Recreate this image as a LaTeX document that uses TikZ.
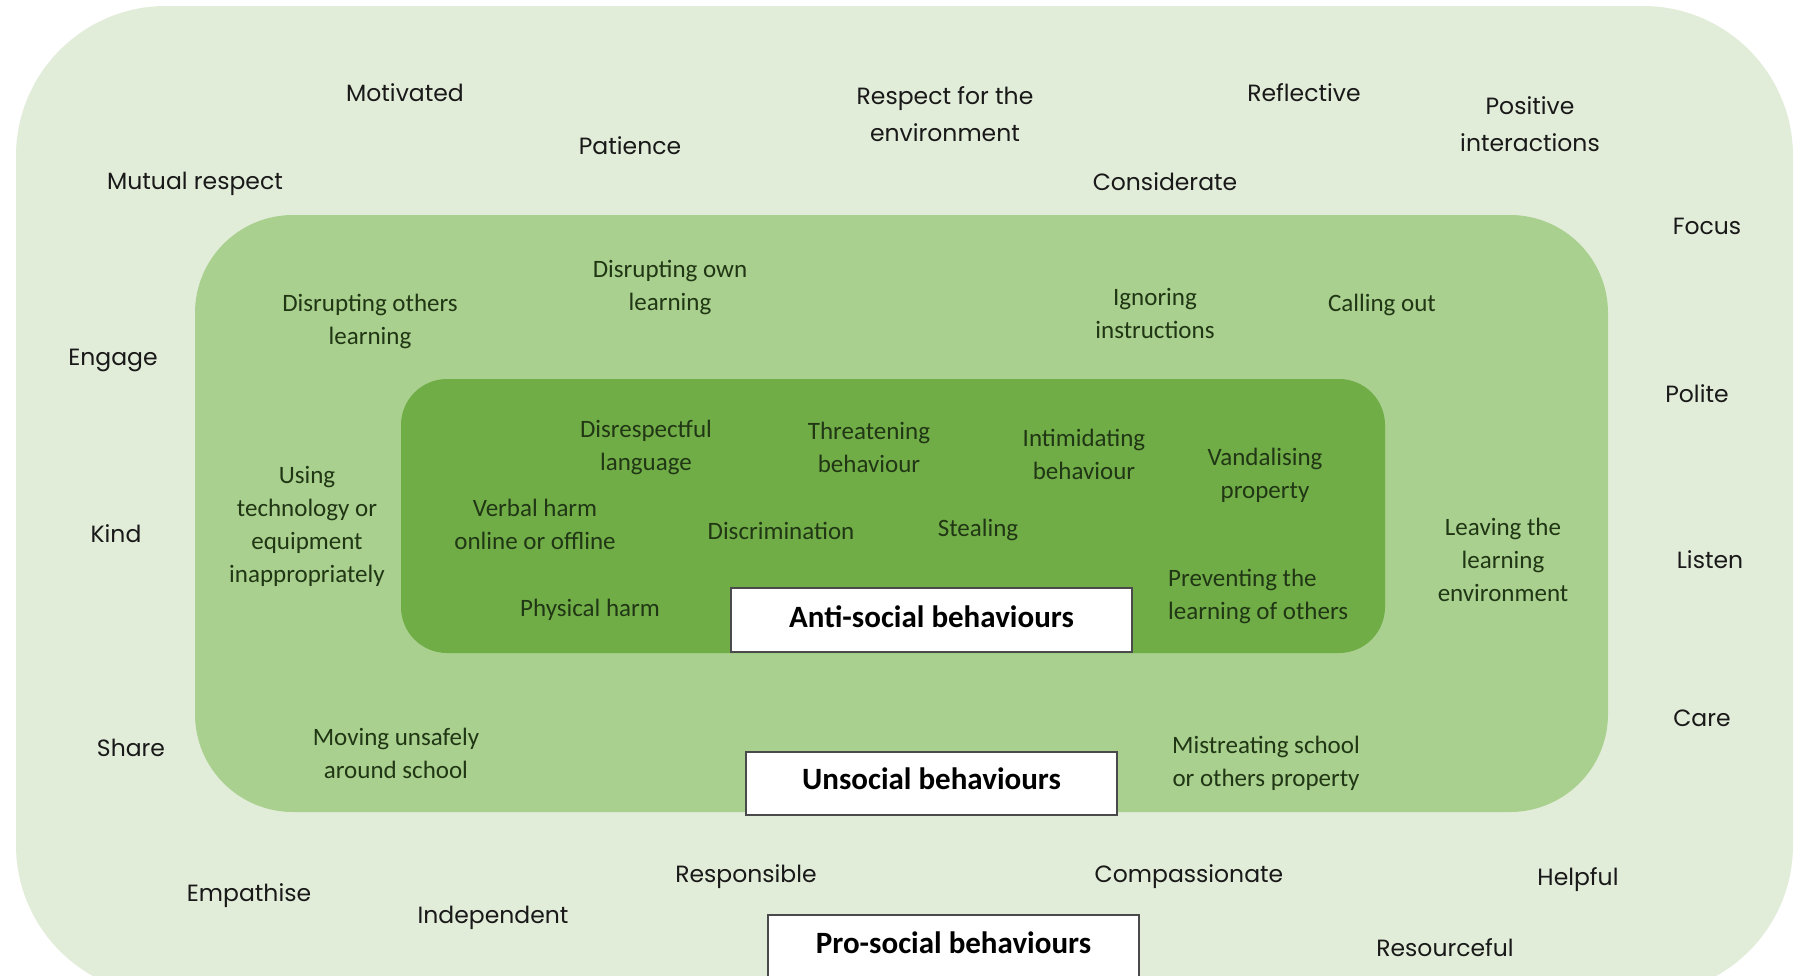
\documentclass[tikz,border=0pt]{standalone}
\usepackage{fontspec}
\setmainfont{Carlito}
\newfontfamily\comic{Poppins}
\definecolor{outerfill}{HTML}{E2EDD9}
\definecolor{midfill}{HTML}{A9D08E}
\definecolor{innerfill}{HTML}{70AD47}
\definecolor{midtext}{HTML}{203614}
\definecolor{boxline}{HTML}{4A4A4A}
\tikzset{
  outerword/.style={align=center, inner sep=0pt, text=black!90, font=\comic\fontsize{23.5}{37}\selectfont},
  midword/.style={align=center, inner sep=0pt, text=midtext, font=\fontsize{25}{33}\selectfont},
  labelbox/.style={draw=boxline, line width=1.5pt, fill=white, inner sep=0pt},
  labeltext/.style={inner sep=0pt, text=black, font=\bfseries\fontsize{31}{36}\selectfont}
}
\begin{document}
\begin{tikzpicture}[x=1pt, y=-1pt]
\useasboundingbox (0,0) rectangle (1802,975);
\clip (0,0) rectangle (1802,975);
\fill[white] (0,0) rectangle (1802,975);
% nested regions
\fill[outerfill, rounded corners=150pt] (16,6) rectangle (1793,995);
\fill[midfill, rounded corners=98pt] (195,215) rectangle (1608,812);
\fill[innerfill, rounded corners=46pt] (401,379) rectangle (1385,653);
% pro-social words
\node[outerword] (motivated) at (405,93) {Motivated};
\node[outerword] (patience) at (630,146) {Patience};
\node[outerword] (respect) at (945,114) {Respect for the\\environment};
\node[outerword] (reflective) at (1304,93) {Reflective};
\node[outerword] (positive) at (1530,124) {Positive\\interactions};
\node[outerword] (considerate) at (1165,182) {Considerate};
\node[outerword] (mutual) at (195,184) {Mutual respect};
\node[outerword] (focus) at (1707,226) {Focus};
\node[outerword] (engage) at (113,360) {Engage};
\node[outerword] (polite) at (1697,394) {Polite};
\node[outerword] (kind) at (116,534) {Kind};
\node[outerword] (listen) at (1710,560) {Listen};
\node[outerword] (share) at (131,748) {Share};
\node[outerword] (care) at (1702,718) {Care};
\node[outerword] (empathise) at (249,896) {Empathise};
\node[outerword] (independent) at (493,918) {Independent};
\node[outerword] (responsible) at (746,877) {Responsible};
\node[outerword] (compassionate) at (1189,877) {Compassionate};
\node[outerword] (helpful) at (1578,880) {Helpful};
\node[outerword] (resourceful) at (1445,948) {Resourceful};
% unsocial words
\node[midword] (disothers) at (370,321) {Disrupting others\\learning};
\node[midword] (disown) at (670,287) {Disrupting own\\learning};
\node[midword] (ignoring) at (1155,313) {Ignoring\\instructions};
\node[midword] (calling) at (1382,305) {Calling out};
\node[midword] (usingtech) at (307,526) {Using\\technology or\\equipment\\inappropriately};
\node[midword] (leaving) at (1503,560) {Leaving the\\learning\\environment};
\node[midword] (moving) at (396,753) {Moving unsafely\\around school};
\node[midword] (mistreat) at (1266,763) {Mistreating school\\or others property};
% anti-social words
\node[midword] (disrespect) at (646,447) {Disrespectful\\language};
\node[midword] (threat) at (869,447) {Threatening\\behaviour};
\node[midword] (intimid) at (1084,454) {Intimidating\\behaviour};
\node[midword] (vandal) at (1265,475) {Vandalising\\property};
\node[midword] (verbal) at (535,524) {Verbal harm\\online or offline};
\node[midword] (discrim) at (781,531) {Discrimination};
\node[midword] (stealing) at (978,530) {Stealing};
\node[midword, align=left, anchor=west] (preventing) at (1168,596) {Preventing the\\learning of others};
\node[midword] (physical) at (590,610) {Physical harm};
% labels
\node[labelbox, minimum width=401pt, minimum height=64pt] (antibox) at (931.5,620) {};
\node[labeltext] (antilabel) at (931.5,617) {Anti-social behaviours};
\node[labelbox, minimum width=371pt, minimum height=63pt] (unbox) at (931.5,783.5) {};
\node[labeltext] (unlabel) at (931.5,779) {Unsocial behaviours};
\node[labelbox, minimum width=371pt, minimum height=100pt, anchor=north] (probox) at (953.5,914) {};
\node[labeltext] (prolabel) at (953.5,943) {Pro-social behaviours};
\end{tikzpicture}
\end{document}
